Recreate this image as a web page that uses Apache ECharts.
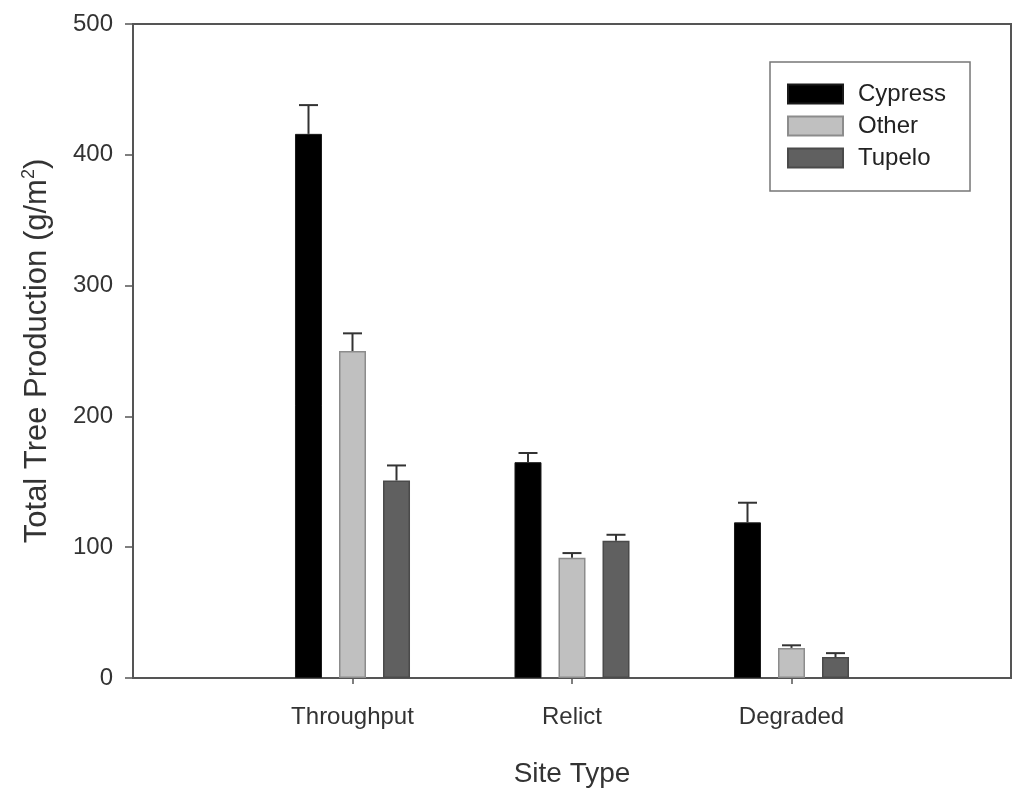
<!DOCTYPE html>
<html>
<head>
<meta charset="utf-8">
<script src="https://cdn.jsdelivr.net/npm/echarts@6/dist/echarts.min.js"></script>
<style>
  html, body { margin: 0; padding: 0; background: #fff; }
  #main { width: 1024px; height: 800px; }
</style>
</head>
<body>
<div id="main"></div>
<script>
// site types, padded with empty slots so the groups sit at 1..3 of a 0..4 axis
const siteTypes = ['Throughput', 'Relict', 'Degraded'];
const yTicks = [0, 100, 200, 300, 400, 500];

// mean total tree production (g/m2) and upper error (SE)
const cypress = [416, 165, 119];
const cypressErr = [22, 7, 15];
const other = [250, 92, 23];
const otherErr = [13.5, 3.5, 2];
const tupelo = [151, 105, 16];
const tupeloErr = [11.5, 4.5, 3];

const myChart = echarts.init(document.getElementById('main'));

const axisCats = [''].concat(siteTypes, ['']);
const pad = arr => ['-'].concat(arr, ['-']);

const font = '"Liberation Sans", Arial, sans-serif';
const barW = 27;
const step = 44; // distance between bar centres inside a group
const capW = 19;

function errSeries(name, vals, errs, slot) {
    return {
        name: name + ' err',
        type: 'custom',
        z: 5,
        data: vals.map((v, i) => [i + 1, v, errs[i]]),
        renderItem: function (params, api) {
            const base = api.coord([api.value(0), api.value(1)]);
            const top = api.coord([api.value(0), api.value(1) + api.value(2)]);
            const x = base[0] + slot * step;
            const st = { stroke: '#333', lineWidth: 2 };
            return {
                type: 'group',
                children: [
                    { type: 'line', shape: { x1: x, y1: base[1], x2: x, y2: top[1] }, style: st },
                    { type: 'line', shape: { x1: x - capW / 2, y1: top[1], x2: x + capW / 2, y2: top[1] }, style: st }
                ]
            };
        }
    };
}

const option = {
    animation: false,
    backgroundColor: '#fff',
    textStyle: { fontFamily: font },
    grid: {
        left: 133, right: 13, top: 24, bottom: 122,
        show: true, borderColor: '#555', borderWidth: 2
    },
    legend: {
        data: ['Cypress', 'Other', 'Tupelo'],
        orient: 'vertical',
        left: 770, top: 62,
        icon: 'rect',
        itemWidth: 55, itemHeight: 19, itemGap: 8,
        padding: [20, 24, 21, 17],
        borderColor: '#777', borderWidth: 1.5,
        textStyle: { fontSize: 24, color: '#222', fontFamily: font, padding: [0, 0, 0, 10] }
    },
    xAxis: {
        type: 'category',
        data: axisCats,
        boundaryGap: false,
        name: 'Site Type',
        nameLocation: 'middle',
        nameGap: 82,
        nameTextStyle: { fontSize: 28, color: '#333', fontFamily: font },
        axisLine: { lineStyle: { color: '#555', width: 2 } },
        axisTick: {
            length: 6,
            interval: (idx, val) => val !== '',
            lineStyle: { color: '#555', width: 1.5 }
        },
        axisLabel: { margin: 27, fontSize: 24, color: '#333', fontFamily: font, interval: 0 },
        splitLine: { show: false }
    },
    yAxis: {
        type: 'value',
        min: yTicks[0],
        max: yTicks[yTicks.length - 1],
        interval: 100,
        name: 'Total Tree Production (g/m{sup|2})',
        nameLocation: 'middle',
        nameGap: 79,
        nameRotate: 90,
        nameTextStyle: {
            fontSize: 31, color: '#333', fontFamily: font, lineHeight: 34,
            rich: { sup: { fontSize: 18, color: '#333', fontFamily: font, verticalAlign: 'top', lineHeight: 18 } }
        },
        axisLine: { show: true, lineStyle: { color: '#555', width: 2 } },
        axisTick: { show: true, length: 8, lineStyle: { color: '#555', width: 1.5 } },
        axisLabel: { margin: 20, fontSize: 24, color: '#333', fontFamily: font },
        splitLine: { show: false }
    },
    series: [
        {
            name: 'Cypress', type: 'bar', data: pad(cypress),
            barWidth: barW, barGap: '63%',
            itemStyle: { color: '#000000', borderColor: '#1a1a1a', borderWidth: 1 }
        },
        {
            name: 'Other', type: 'bar', data: pad(other),
            barWidth: barW, barGap: '63%',
            itemStyle: { color: '#c0c0c0', borderColor: '#8c8c8c', borderWidth: 1.5 }
        },
        {
            name: 'Tupelo', type: 'bar', data: pad(tupelo),
            barWidth: barW, barGap: '63%',
            itemStyle: { color: '#606060', borderColor: '#4a4a4a', borderWidth: 1.5 }
        },
        errSeries('Cypress', cypress, cypressErr, -1),
        errSeries('Other', other, otherErr, 0),
        errSeries('Tupelo', tupelo, tupeloErr, 1)
    ]
};

myChart.setOption(option);
</script>
</body>
</html>
